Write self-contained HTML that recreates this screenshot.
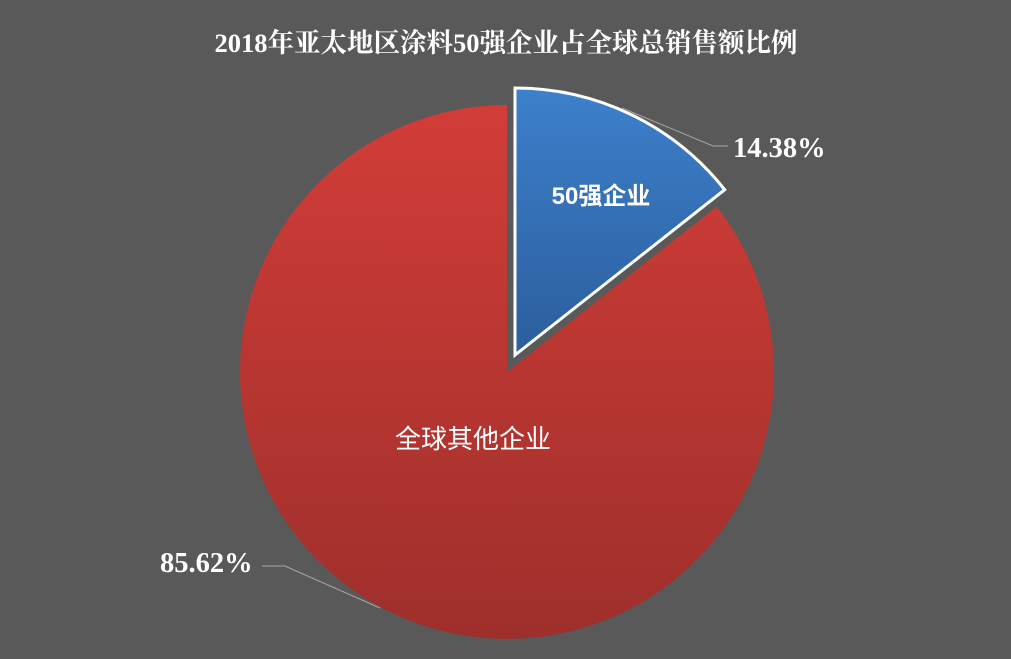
<!DOCTYPE html>
<html><head><meta charset="utf-8"><style>
html,body{margin:0;padding:0;background:#595959;}
svg{display:block}
</style></head><body>
<svg width="1011" height="659" viewBox="0 0 1011 659" xmlns="http://www.w3.org/2000/svg">
<defs>
<linearGradient id="r" x1="0" y1="0" x2="0" y2="1">
<stop offset="0" stop-color="#d23d38"/><stop offset="1" stop-color="#9e2f2b"/>
</linearGradient>
<linearGradient id="b" x1="0" y1="0" x2="0" y2="1">
<stop offset="0" stop-color="#3d80cc"/><stop offset="1" stop-color="#2b5e9c"/>
</linearGradient>
</defs>
<rect width="1011" height="659" fill="#595959"/>
<text x="506" y="52" text-anchor="middle" fill="#fff" font-family="Liberation Serif, Noto Serif CJK SC, serif" font-weight="bold" font-size="26.5">2018年亚太地区涂料50强企业占全球总销售额比例</text>
<path d="M507,372 L507,105 A267,267 0 1 0 716.7,206.7 Z" fill="url(#r)"/>
<path d="M515,355 L515,88 A267,267 0 0 1 724.7,189.7 Z" fill="url(#b)" stroke="#fff" stroke-width="3" stroke-linejoin="miter"/>
<polyline points="622,108 713,146 728,146" fill="none" stroke="#a6a6a6" stroke-width="1"/>
<polyline points="380,608 285,566 262,566" fill="none" stroke="#a6a6a6" stroke-width="1"/>
<text x="733" y="157" fill="#fff" font-family="Liberation Serif, serif" font-weight="bold" font-size="28.5">14.38%</text>
<text x="160" y="572" fill="#fff" font-family="Liberation Serif, serif" font-weight="bold" font-size="28.5">85.62%</text>
<text x="601" y="204" text-anchor="middle" fill="#fff" font-family="Liberation Sans, Noto Sans CJK SC, sans-serif" font-weight="bold" font-size="24">50强企业</text>
<text x="473" y="448" text-anchor="middle" fill="#fff" font-family="Liberation Sans, Noto Sans CJK SC, sans-serif" font-size="26">全球其他企业</text>
</svg>
</body></html>
